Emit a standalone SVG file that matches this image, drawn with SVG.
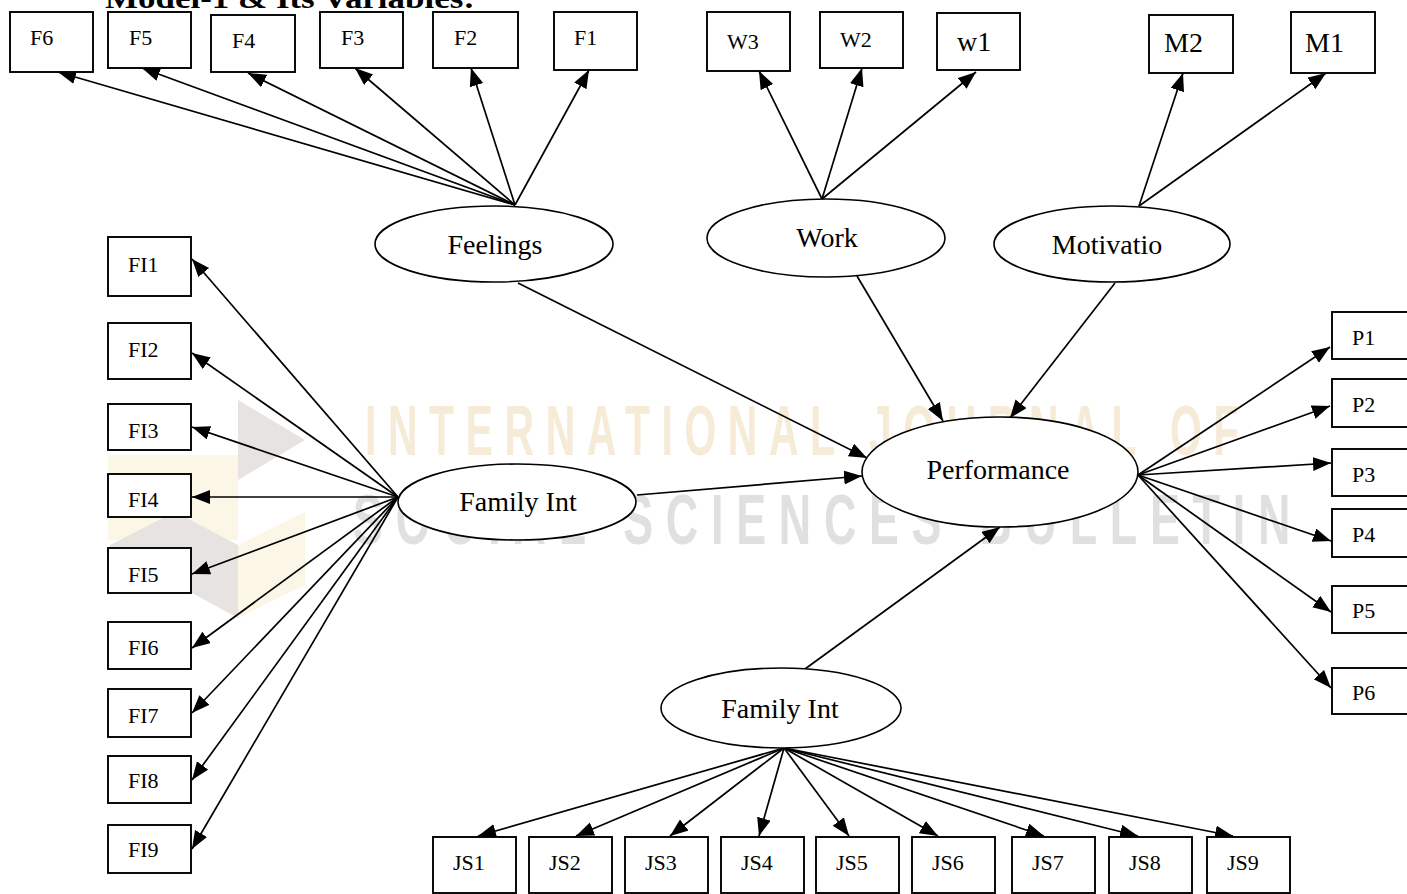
<svg xmlns="http://www.w3.org/2000/svg" width="1407" height="894" viewBox="0 0 1407 894">
  <defs>
    <marker id="arrow" markerUnits="userSpaceOnUse" markerWidth="19" markerHeight="15" refX="18" refY="7" orient="auto">
      <path d="M0,0 L18,7 L0,14 Z" fill="#000"/>
    </marker>
  </defs>
  <style>
    .box { fill: #fff; stroke: #000; stroke-width: 1.9; }
    .lat { fill: #fff; stroke: #000; stroke-width: 1.6; }
    .edge { stroke: #000; stroke-width: 1.7; fill: none; marker-end: url(#arrow); }
    .lbl { font-family: "Liberation Serif", "Times New Roman", serif; font-size: 22px; fill: #000; }
    .big { font-size: 28px; }
    .elbl { font-family: "Liberation Serif", "Times New Roman", serif; font-size: 28px; fill: #000; text-anchor: middle; }
    .title { font-family: "Liberation Serif", "Times New Roman", serif; font-size: 30px; font-weight: bold; fill: #000; }
    .wm { font-family: "Liberation Sans", Arial, sans-serif; font-size: 70px; font-weight: bold; }
  </style>

  <!-- background watermark -->
  <g id="watermark">
    <polygon points="238,400 305,440 238,480" fill="#e6e3e0"/>
    <polygon points="108,455 238,455 238,540 108,540" fill="#fcf6e6"/>
    <polygon points="110,545 175,512 238,545 238,618 192,593 110,552" fill="#e6e3e0"/>
    <polygon points="238,545 305,512 305,585 238,618" fill="#fcf6e6"/>
    <text class="wm" x="365" y="455" fill="#f5ebd6" letter-spacing="20" textLength="885" lengthAdjust="spacingAndGlyphs">INTERNATIONAL JOURNAL OF</text>
    <text class="wm" x="353" y="544" fill="#e2e0de" letter-spacing="20" textLength="950" lengthAdjust="spacingAndGlyphs">SOCIAL SCIENCES BULLETIN</text>
  </g>

  <text class="title" x="105" y="8" textLength="370" lengthAdjust="spacingAndGlyphs">Model-1 &amp; Its Variables:</text>

  <!-- connectors -->
  <g id="connectors">
    <!-- Feelings indicators -->
    <line class="edge" x1="515" y1="205" x2="58" y2="72"/>
    <line class="edge" x1="515" y1="205" x2="142" y2="68"/>
    <line class="edge" x1="515" y1="205" x2="248" y2="73"/>
    <line class="edge" x1="515" y1="205" x2="355" y2="68"/>
    <line class="edge" x1="515" y1="205" x2="471" y2="68"/>
    <line class="edge" x1="515" y1="205" x2="589" y2="70"/>
    <!-- Work indicators -->
    <line class="edge" x1="822" y1="199" x2="759" y2="71"/>
    <line class="edge" x1="822" y1="199" x2="862" y2="68"/>
    <line class="edge" x1="822" y1="199" x2="976" y2="72"/>
    <!-- Motivation indicators -->
    <line class="edge" x1="1139" y1="206" x2="1183" y2="73"/>
    <line class="edge" x1="1139" y1="206" x2="1326" y2="73"/>
    <!-- structural paths -->
    <line class="edge" x1="518" y1="283" x2="867" y2="458"/>
    <line class="edge" x1="857" y1="276" x2="943" y2="421"/>
    <line class="edge" x1="1115" y1="283" x2="1010" y2="418"/>
    <line class="edge" x1="637" y1="495" x2="862" y2="476"/>
    <line class="edge" x1="805" y1="669" x2="1000" y2="527"/>
    <!-- Family Int (left) indicators -->
    <line class="edge" x1="398" y1="497" x2="192" y2="259"/>
    <line class="edge" x1="398" y1="497" x2="192" y2="353"/>
    <line class="edge" x1="398" y1="497" x2="192" y2="427"/>
    <line class="edge" x1="398" y1="497" x2="192" y2="497"/>
    <line class="edge" x1="398" y1="497" x2="192" y2="574"/>
    <line class="edge" x1="398" y1="497" x2="192" y2="648"/>
    <line class="edge" x1="398" y1="497" x2="192" y2="713"/>
    <line class="edge" x1="398" y1="497" x2="192" y2="780"/>
    <line class="edge" x1="398" y1="497" x2="192" y2="849"/>
    <!-- Performance indicators -->
    <line class="edge" x1="1138" y1="475" x2="1330" y2="347"/>
    <line class="edge" x1="1138" y1="475" x2="1330" y2="406"/>
    <line class="edge" x1="1138" y1="475" x2="1331" y2="463"/>
    <line class="edge" x1="1138" y1="475" x2="1331" y2="541"/>
    <line class="edge" x1="1138" y1="475" x2="1331" y2="612"/>
    <line class="edge" x1="1138" y1="475" x2="1331" y2="688"/>
    <!-- Family Int (bottom) indicators -->
    <line class="edge" x1="784" y1="748" x2="478" y2="836"/>
    <line class="edge" x1="784" y1="748" x2="576" y2="836"/>
    <line class="edge" x1="784" y1="748" x2="670" y2="836"/>
    <line class="edge" x1="784" y1="748" x2="759" y2="836"/>
    <line class="edge" x1="784" y1="748" x2="849" y2="836"/>
    <line class="edge" x1="784" y1="748" x2="938" y2="836"/>
    <line class="edge" x1="784" y1="748" x2="1044" y2="836"/>
    <line class="edge" x1="784" y1="748" x2="1138" y2="836"/>
    <line class="edge" x1="784" y1="748" x2="1233" y2="836"/>
  </g>

  <!-- latent variables -->
  <g id="feelings"><ellipse class="lat" cx="494" cy="244" rx="119" ry="38"/><text class="elbl" x="495" y="254">Feelings</text></g>
  <g id="work"><ellipse class="lat" cx="826" cy="238" rx="119" ry="39"/><text class="elbl" x="827" y="247">Work</text></g>
  <g id="motivation"><ellipse class="lat" cx="1112" cy="244" rx="118" ry="38"/><text class="elbl" x="1107" y="254">Motivatio</text></g>
  <g id="performance"><ellipse class="lat" cx="1000" cy="472" rx="138" ry="55"/><text class="elbl" x="998" y="479">Performance</text></g>
  <g id="family-int-left"><ellipse class="lat" cx="517" cy="502" rx="119" ry="38"/><text class="elbl" x="518" y="511">Family Int</text></g>
  <g id="family-int-bottom"><ellipse class="lat" cx="781" cy="708" rx="120" ry="40"/><text class="elbl" x="780" y="718">Family Int</text></g>

  <!-- top indicators -->
  <g id="F6"><rect class="box" x="10" y="12" width="83" height="60"/><text class="lbl" x="30" y="45">F6</text></g>
  <g id="F5"><rect class="box" x="108" y="12" width="83" height="56"/><text class="lbl" x="129" y="45">F5</text></g>
  <g id="F4"><rect class="box" x="211" y="15" width="84" height="57"/><text class="lbl" x="232" y="48">F4</text></g>
  <g id="F3"><rect class="box" x="320" y="12" width="83" height="56"/><text class="lbl" x="341" y="45">F3</text></g>
  <g id="F2"><rect class="box" x="433" y="12" width="85" height="56"/><text class="lbl" x="454" y="45">F2</text></g>
  <g id="F1"><rect class="box" x="554" y="12" width="83" height="58"/><text class="lbl" x="574" y="45">F1</text></g>
  <g id="W3"><rect class="box" x="707" y="12" width="83" height="59"/><text class="lbl" x="727" y="49">W3</text></g>
  <g id="W2"><rect class="box" x="820" y="12" width="83" height="56"/><text class="lbl" x="840" y="47">W2</text></g>
  <g id="w1"><rect class="box" x="937" y="13" width="83" height="57"/><text class="lbl big" x="957" y="51">w1</text></g>
  <g id="M2"><rect class="box" x="1149" y="15" width="84" height="58"/><text class="lbl big" x="1164" y="52">M2</text></g>
  <g id="M1"><rect class="box" x="1291" y="12" width="84" height="61"/><text class="lbl big" x="1305" y="52">M1</text></g>

  <!-- left indicators -->
  <g id="FI1"><rect class="box" x="108" y="237" width="83" height="59"/><text class="lbl" x="128" y="272">FI1</text></g>
  <g id="FI2"><rect class="box" x="108" y="323" width="83" height="56"/><text class="lbl" x="128" y="357">FI2</text></g>
  <g id="FI3"><rect class="box" x="108" y="404" width="83" height="46"/><text class="lbl" x="128" y="438">FI3</text></g>
  <g id="FI4"><rect class="box" x="108" y="474" width="83" height="43"/><text class="lbl" x="128" y="507">FI4</text></g>
  <g id="FI5"><rect class="box" x="108" y="548" width="83" height="45"/><text class="lbl" x="128" y="582">FI5</text></g>
  <g id="FI6"><rect class="box" x="108" y="622" width="83" height="47"/><text class="lbl" x="128" y="655">FI6</text></g>
  <g id="FI7"><rect class="box" x="108" y="689" width="83" height="48"/><text class="lbl" x="128" y="723">FI7</text></g>
  <g id="FI8"><rect class="box" x="108" y="756" width="83" height="47"/><text class="lbl" x="128" y="788">FI8</text></g>
  <g id="FI9"><rect class="box" x="108" y="825" width="83" height="48"/><text class="lbl" x="128" y="857">FI9</text></g>

  <!-- right indicators -->
  <g id="P1"><rect class="box" x="1332" y="312" width="90" height="47"/><text class="lbl" x="1352" y="345">P1</text></g>
  <g id="P2"><rect class="box" x="1332" y="379" width="90" height="48"/><text class="lbl" x="1352" y="412">P2</text></g>
  <g id="P3"><rect class="box" x="1332" y="449" width="90" height="47"/><text class="lbl" x="1352" y="482">P3</text></g>
  <g id="P4"><rect class="box" x="1332" y="509" width="90" height="48"/><text class="lbl" x="1352" y="542">P4</text></g>
  <g id="P5"><rect class="box" x="1332" y="586" width="90" height="47"/><text class="lbl" x="1352" y="618">P5</text></g>
  <g id="P6"><rect class="box" x="1332" y="668" width="90" height="46"/><text class="lbl" x="1352" y="700">P6</text></g>

  <!-- bottom indicators -->
  <g id="JS1"><rect class="box" x="433" y="837" width="83" height="56"/><text class="lbl" x="453" y="870">JS1</text></g>
  <g id="JS2"><rect class="box" x="529" y="837" width="83" height="56"/><text class="lbl" x="549" y="870">JS2</text></g>
  <g id="JS3"><rect class="box" x="625" y="837" width="83" height="56"/><text class="lbl" x="645" y="870">JS3</text></g>
  <g id="JS4"><rect class="box" x="721" y="837" width="83" height="56"/><text class="lbl" x="741" y="870">JS4</text></g>
  <g id="JS5"><rect class="box" x="816" y="837" width="83" height="56"/><text class="lbl" x="836" y="870">JS5</text></g>
  <g id="JS6"><rect class="box" x="912" y="837" width="83" height="56"/><text class="lbl" x="932" y="870">JS6</text></g>
  <g id="JS7"><rect class="box" x="1012" y="837" width="83" height="56"/><text class="lbl" x="1032" y="870">JS7</text></g>
  <g id="JS8"><rect class="box" x="1109" y="837" width="83" height="56"/><text class="lbl" x="1129" y="870">JS8</text></g>
  <g id="JS9"><rect class="box" x="1207" y="837" width="83" height="56"/><text class="lbl" x="1227" y="870">JS9</text></g>
</svg>
